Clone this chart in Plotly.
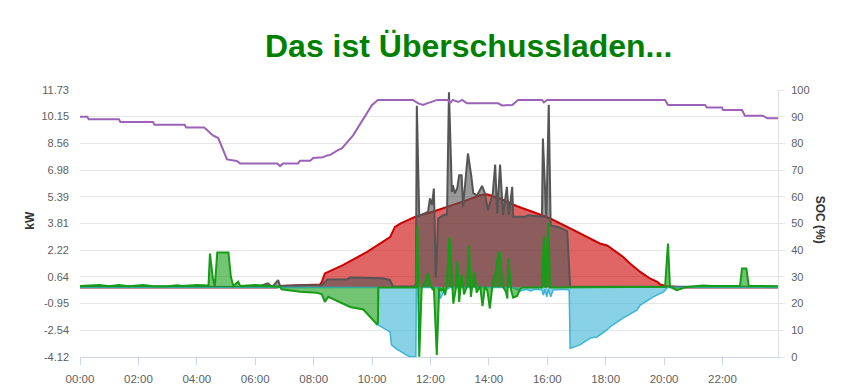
import plotly.graph_objects as go

DAY = "2024-01-01 "

# PV production (kW)
pv_t = ["00:00", "06:45", "06:51", "07:30", "08:13", "08:17", "08:23", "09:00", "09:50", "10:37",
        "10:47", "10:58", "11:28", "12:05", "12:40", "13:15", "13:42", "13:56", "14:23", "14:58",
        "15:31", "16:06", "16:41", "17:14", "17:48", "18:03", "18:36", "18:50", "19:11", "19:31",
        "19:46", "19:52", "20:06", "20:47", "23:54"]
pv_v = [0, 0, 0.1, 0.15, 0.18, 0.34, 0.84, 1.33, 2.12, 3.0,
        3.6, 3.8, 4.2, 4.5, 4.83, 5.19, 5.48, 5.54, 5.29, 4.83,
        4.49, 4.1, 3.6, 3.1, 2.62, 2.5, 1.82, 1.43, 0.93, 0.54,
        0.34, 0.18, 0.08, 0, 0]

# House consumption (kW)
load_t = ["00:00", "04:00", "06:04", "06:26", "06:35", "06:47", "06:51", "07:32", "08:17", "08:28",
          "09:09", "09:15", "10:23", "10:37", "10:43", "11:28", "11:30", "11:32", "11:37", "11:40",
          "11:49", "11:55", "11:59", "12:03", "12:07", "12:11", "12:16", "12:26", "12:34", "12:38",
          "12:44", "12:46", "12:50", "12:55", "12:59", "13:04", "13:07", "13:17", "13:24", "13:28",
          "13:36", "13:46", "13:52", "13:58", "14:08", "14:13", "14:17", "14:23", "14:29", "14:37",
          "14:41", "14:48", "14:50", "15:14", "15:21", "15:49", "15:51", "15:58", "16:03", "16:07",
          "16:12", "16:22", "16:41", "16:47", "23:54"]
load_v = [0.08, 0.08, 0.04, 0.25, 0.04, 0.44, 0.1, 0.14, 0.14, 0.48,
          0.5, 0.6, 0.55, 0.44, 0.07, 0.07, 0.3, 10.8, 4.2, 4.3,
          4.4, 4.5, 5.29, 4.9, 5.88, 0.6, 4.1, 4.3, 4.35, 11.6,
          5.68, 6.08, 5.6, 5.9, 6.67, 6.67, 4.8, 7.96, 6.6, 5.6,
          5.48, 6.04, 5.6, 4.6, 5.6, 7.3, 4.4, 7.3, 4.3, 5.98,
          4.3, 5.98, 4.2, 4.2, 4.3, 4.2, 8.85, 4.1, 10.85, 3.7,
          3.65, 3.6, 3.35, 0.05, 0.05]

# Grid exchange (kW)
grid_t = ["00:00", "00:40", "01:00", "01:20", "01:40", "02:10", "02:30", "03:00", "03:20", "03:30",
          "04:00", "04:24", "04:27", "04:33", "04:37", "04:42", "05:05", "05:10", "05:15", "05:25",
          "05:29", "06:00", "06:26", "06:51", "06:54", "07:32", "08:06", "08:17", "08:23", "08:30",
          "09:15", "09:42", "10:10", "10:12", "10:13", "11:30", "11:33", "11:37", "11:42", "11:49",
          "11:55", "11:59", "12:05", "12:07", "12:13", "12:18", "12:23", "12:26", "12:30", "12:33",
          "12:39", "12:44", "12:47", "12:53", "12:55", "12:59", "13:04", "13:09", "13:15", "13:19",
          "13:23", "13:30", "13:35", "13:42", "13:47", "13:52", "13:57", "14:02", "14:08", "14:13",
          "14:17", "14:22", "14:26", "14:30", "14:35", "14:38", "14:40", "14:46", "14:50", "14:58",
          "15:04", "15:08", "15:49", "15:53", "15:56", "16:02", "16:06", "20:02", "20:08", "20:12",
          "20:26", "20:47", "21:20", "21:40", "22:22", "22:36", "22:40", "22:49", "22:54", "23:00",
          "23:54"]
grid_v = [0.1, 0.15, 0.08, 0.15, 0.08, 0.15, 0.08, 0.08, 0.14, 0.1,
          0.15, 0.12, 2.02, 0.56, 0.1, 2.08, 2.08, 0.64, 0.1, 0.35,
          0.1, 0.15, 0.1, 0.05, -0.1, -0.25, -0.3, -0.4, -0.85, -0.55,
          -1.15, -1.3, -2.17, -2.1, 0, 0, 3.7, -4.1, 0, 0.34,
          0.84, 0.3, -0.15, 0, -4.0, 0, -0.2, 0, -0.45, 0,
          3.0, 0, -0.95, 0.1, 1.6, -0.85, 0.74, -0.4, 0.1, 2.5,
          -0.55, 0.93, -0.3, 0.1, -1.1, 0.1, -0.2, -1.24, 0.3, 0.74,
          1.63, 2.12, 0.8, 0, -0.25, -0.65, 1.73, -0.2, -0.6, -0.5,
          -0.1, 0, 0, 3.0, 0, 3.86, 0, 0.05, 2.62, 0.05,
          -0.15, 0.04, 0.12, 0.1, 0.12, 0.1, 1.13, 1.13, 0.08, 0.1,
          0.08]

# Battery power (kW, negative = charging)
bat_t = ["00:00", "10:12", "10:13", "10:37", "10:40", "10:51", "11:11", "11:18", "11:30", "11:31",
         "12:16", "12:18", "12:20", "12:26", "12:33", "12:40", "14:50", "15:04", "15:10", "15:18",
         "15:25", "15:35", "15:49", "15:52", "15:55", "15:59", "16:02", "16:07", "16:12", "16:33",
         "16:45", "16:47", "17:07", "17:28", "17:42", "18:02", "18:09", "18:36", "19:04", "19:11",
         "19:38", "19:45", "19:59", "20:05", "20:08", "23:54"]
bat_v = [0, 0, -2.23, -2.63, -3.4, -3.65, -4.01, -4.11, -4.11, 0,
         0, -0.4, -0.65, -0.3, -0.1, 0, 0, -0.2, -0.15, -0.1,
         -0.2, -0.1, -0.15, -0.45, -0.1, -0.55, -0.1, -0.55, -0.15, -0.1,
         -0.15, -3.61, -3.4, -3.0, -2.93, -2.53, -2.33, -1.8, -1.34, -1.04,
         -0.55, -0.45, -0.25, -0.05, 0, 0]

# State of charge (%)
soc_t = ["00:00", "00:15", "00:18", "01:20", "01:23", "02:30", "02:33", "03:35", "03:38", "04:15",
         "04:21", "04:33", "04:44", "05:02", "05:22", "05:29", "06:45", "06:51", "06:57", "07:28",
         "07:32", "07:53", "07:59", "08:19", "08:28", "08:34", "08:50", "08:58", "09:21", "09:42",
         "10:00", "10:12", "11:24", "11:35", "11:45", "11:53", "12:14", "12:36", "12:40", "12:46",
         "12:57", "13:05", "13:15", "14:19", "14:27", "14:48", "15:00", "15:49", "15:53", "16:00",
         "20:02", "20:08", "21:24", "21:28", "21:59", "22:01", "22:40", "22:46", "23:23", "23:32",
         "23:54"]
soc_v = [90, 90, 89, 89, 88, 88, 87, 87, 86, 86,
         85, 83, 82, 74, 73.4, 72.5, 72.5, 71.5, 72.5, 72.5,
         73.5, 73.5, 74.5, 74.8, 75.5, 75.7, 77.5, 78.1, 83, 89.4,
         94.4, 96.3, 96.3, 95, 94.4, 95, 96.3, 96.3, 95.1, 96.3,
         95.5, 96.3, 95, 95, 94.2, 94.4, 96.3, 96.3, 95.4, 96.3,
         96.3, 94.4, 94.4, 93.4, 93.4, 92.5, 92.5, 90.4, 90.4, 89.4,
         89.4]

kw_ticks = [-4.12, -2.54, -0.95, 0.64, 2.22, 3.81, 5.39, 6.98, 8.56, 10.15, 11.73]
x_start, x_end = "00:00", "23:54"

def ts(lst):
    return [DAY + t for t in lst]

FONT = "Liberation Sans, Arial, sans-serif"

fig = go.Figure()
fig.add_trace(go.Scatter(x=ts(pv_t), y=pv_v, mode="lines", fill="tozeroy",
                         line=dict(color="#cc0000", width=2), fillcolor="rgba(204,0,0,0.6)", name="PV"))
fig.add_trace(go.Scatter(x=ts(load_t), y=load_v, mode="lines", fill="tozeroy",
                         line=dict(color="#555555", width=2), fillcolor="rgba(85,85,85,0.6)", name="Verbrauch"))
fig.add_trace(go.Scatter(x=ts(bat_t), y=bat_v, mode="lines", fill="tozeroy",
                         line=dict(color="#3ab4d4", width=1.5), fillcolor="rgba(58,180,212,0.6)", name="Batterie"))
fig.add_trace(go.Scatter(x=ts(grid_t), y=grid_v, mode="lines", fill="tozeroy",
                         line=dict(color="#169c16", width=2), fillcolor="rgba(22,156,22,0.6)", name="Netz"))
fig.add_trace(go.Scatter(x=ts(soc_t), y=soc_v, mode="lines", yaxis="y2",
                         line=dict(color="#9b62b8", width=2), name="SOC"))

fig.update_layout(
    width=849, height=390,
    margin=dict(l=80, r=71, t=90, b=33, autoexpand=False),
    paper_bgcolor="white", plot_bgcolor="white",
    showlegend=False,
    font=dict(family=FONT, size=11, color="#606060"),
    title=dict(text="<b>Das ist Überschussladen...</b>", font=dict(family=FONT, size=32, color="#008000"),
               x=0.552, xref="container", xanchor="center", y=0.882, yref="container", yanchor="middle",
               automargin=False),
    xaxis=dict(type="date", range=[DAY + x_start, DAY + x_end], tickformat="%H:%M", dtick=7200000,
               tick0=DAY + "00:00", showgrid=False, showline=True, linecolor="#ccd6eb", linewidth=1,
               ticks="outside", ticklen=7, tickcolor="#ccd6eb", zeroline=False, automargin=False,
               tickfont=dict(size=11.5, color="#606060"), ticklabelstandoff=4),
    yaxis=dict(range=[-4.12, 11.73], tickvals=kw_ticks, ticktext=[f"{v:.2f}" for v in kw_ticks],
               showgrid=True, gridcolor="#e6e6e6", zeroline=False, showline=False, automargin=False,
               tickfont=dict(size=11, color="#606060"), ticklabelstandoff=10),
    yaxis2=dict(range=[0, 100], dtick=10, overlaying="y", side="right", showgrid=False, zeroline=False,
                showline=True, linecolor="#e0e0e0", ticks="outside", ticklen=6, tickcolor="#e6e6e6",
                automargin=False, tickfont=dict(size=11, color="#606060"), ticklabelstandoff=4),
    annotations=[
        dict(text="<b>kW</b>", xref="paper", yref="paper", x=-0.072, y=(357 - 220) / 267, textangle=-90,
             showarrow=False, font=dict(family=FONT, size=12, color="#333333"), xanchor="center", yanchor="middle"),
        dict(text="<b>SOC (%)</b>", xref="paper", yref="paper", x=1.0607, y=(357 - 220) / 267, textangle=90,
             showarrow=False, font=dict(family=FONT, size=12, color="#333333"), xanchor="center", yanchor="middle"),
    ],
)

fig.write_html("out.html", config={"displayModeBar": False},
               post_script="document.body.style.margin='0';document.body.style.padding='0';")
